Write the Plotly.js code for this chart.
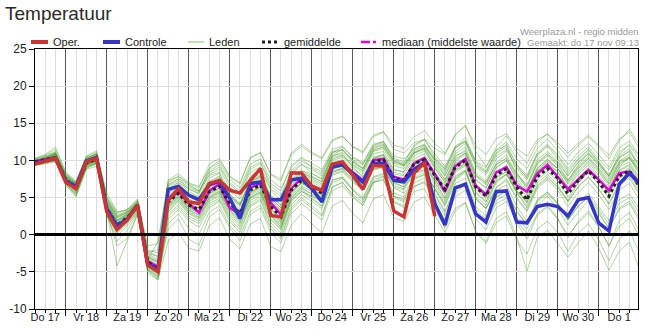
<!DOCTYPE html>
<html>
<head>
<meta charset="utf-8">
<script src="https://cdn.plot.ly/plotly-3.0.1.min.js"></script>
<style>
html,body{margin:0;padding:0;background:#fff;}
#chart{width:645px;height:334px;}
</style>
</head>
<body>
<div id="chart"></div>
<script>
// time steps: hours since Do 17 00:00, every 6 hours
const hours = [6,12,18,24,30,36,42,48,54,60,66,72,78,84,90,96,102,108,114,120,126,132,138,144,150,156,162,168,174,180,186,192,198,204,210,216,222,228,234,240,246,252,258,264,270,276,282,288,294,300,306,312,318,324,330,336,342,348,354,360];
const dayStarts = [24,48,72,96,120,144,168,192,216,240,264,288,312,336];
const dayMid = [12,36,60,84,108,132,156,180,204,228,252,276,300,324,348];
const dayLabels = ["Do 17","Vr 18","Za 19","Zo 20","Ma 21","Di 22","Wo 23","Do 24","Vr 25","Za 26","Zo 27","Ma 28","Di 29","Wo 30","Do 1"];
const yTicks = [-10,-5,0,5,10,15,20,25];

const oper = [9.5,9.9,10.3,7.1,6.2,9.8,10.3,3.1,0.7,2.0,4.0,-4.1,-5.0,4.7,6.2,4.4,4.2,6.9,7.3,6.0,5.6,7.3,8.9,2.6,2.4,8.3,8.3,6.5,6.0,9.5,9.8,8.0,6.1,9.3,9.3,3.2,2.4,8.3,9.7,2.5];
const controle = [9.6,9.9,10.3,7.3,6.5,9.9,10.4,3.5,1.2,2.1,4.0,-4.0,-4.6,6.1,6.5,5.3,4.7,6.7,7.2,4.9,2.2,6.9,7.1,4.7,4.7,7.4,7.6,6.2,4.4,9.1,9.4,8.2,7.1,9.6,9.6,7.3,7.1,8.8,9.7,4.2,1.3,6.3,6.8,2.8,1.7,5.8,5.9,1.7,1.6,3.8,4.1,3.8,2.5,4.7,5.0,1.6,0.5,6.8,8.3,6.8];
const gemiddelde = [9.8,10.1,10.4,7.4,6.3,9.6,10.2,3.6,1.3,2.3,3.8,-3.7,-4.6,4.4,5.6,4.0,3.4,5.8,6.5,4.2,2.9,6.0,6.7,3.8,2.4,6.0,7.3,6.5,5.6,9.1,9.5,8.2,7.1,9.8,10.1,7.6,7.3,9.6,10.1,8.0,6.1,9.1,10.0,6.4,5.2,8.0,8.9,6.4,4.7,7.8,8.9,7.6,5.5,7.3,8.6,7.1,5.2,7.9,8.6,6.4];
const mediaan = [9.9,10.2,10.4,7.3,6.2,9.7,10.3,3.4,1.1,2.2,3.9,-3.5,-4.4,4.6,5.8,4.2,3.0,5.9,6.8,3.6,2.8,6.3,6.9,4.3,2.7,6.2,7.6,6.6,5.8,9.3,9.6,8.4,7.3,10.0,10.2,7.8,7.4,9.6,10.3,8.2,5.8,9.2,10.2,6.6,5.4,8.4,9.1,6.6,5.8,8.2,9.4,7.8,6.1,7.4,8.7,7.4,6.0,8.3,8.5,7.0];

const lid01 = [10.2,10.6,11.2,8.0,6.8,10.2,10.9,4.5,2.2,3.0,4.4,-2.8,-3.5,6.2,7.1,5.8,5.1,7.6,8.3,5.9,4.8,7.8,8.8,6.0,4.6,8.1,9.4,8.8,7.9,11.0,11.8,10.4,9.5,12.0,12.6,10.1,9.6,11.9,12.8,10.5,8.9,11.8,13.1,9.8,8.6,11.0,12.2,9.4,7.6,10.7,11.9,10.2,8.3,10.1,11.4,9.8,8.1,10.6,11.6,9.3];
const lid02 = [9.4,9.7,10.0,6.9,5.4,9.0,9.5,2.8,-0.2,1.2,3.0,-4.8,-5.9,2.1,3.4,1.9,1.0,3.6,4.5,1.8,0.3,3.8,4.6,1.2,-0.3,3.6,5.0,3.9,2.7,6.4,7.1,5.2,4.0,7.0,7.5,4.4,3.9,6.5,7.2,4.9,2.6,5.6,6.8,2.9,1.5,4.6,5.5,2.4,0.8,3.9,5.2,3.5,1.3,3.0,4.6,2.8,0.9,3.6,4.5,2.2];
const lid03 = [9.9,10.3,10.8,7.8,6.6,9.9,10.6,4.2,1.8,2.6,4.1,-3.2,-4.0,5.2,6.4,4.8,4.1,6.5,7.3,5.0,3.8,6.9,7.6,4.7,3.3,6.9,8.2,7.4,6.6,10.0,10.4,9.3,8.2,10.9,11.2,8.8,8.4,10.6,11.3,9.2,7.4,10.4,11.5,8.0,6.9,9.7,10.7,8.2,6.6,9.6,10.8,9.5,7.4,9.2,10.5,9.0,7.2,9.8,10.5,8.4];
const lid04 = [9.6,9.9,10.2,7.0,5.9,9.3,9.9,3.1,-4.2,-0.8,2.7,-5.2,-6.1,-0.8,0.3,-1.8,-2.2,1.2,2.3,-0.6,-1.9,1.4,2.2,-1.6,-2.3,1.3,2.8,1.5,0.2,3.9,4.6,2.9,1.6,4.8,5.4,2.3,1.8,4.4,5.1,2.6,0.3,3.2,4.3,0.5,-0.9,2.2,3.1,-0.3,-4.9,-0.4,0.6,-1.2,-3.0,-1.1,0.5,-1.8,-4.8,-2.2,-1.0,-4.7];
const lid05 = [10.3,10.8,11.8,8.5,7.2,10.6,11.3,5.2,3.0,3.4,4.8,-1.5,-1.2,7.0,7.9,6.9,6.3,9.5,10.3,7.8,6.8,10.4,11.0,8.1,7.2,10.8,11.9,10.9,10.2,12.6,13.2,11.9,11.2,13.4,13.9,12.1,11.6,13.2,14.0,12.3,11.0,13.5,14.6,12.0,10.8,12.9,13.6,11.6,10.6,12.8,13.5,12.4,11.0,12.3,13.4,12.1,10.7,12.9,13.8,11.5];
const lid06 = [9.7,10.0,10.5,7.5,6.4,9.5,10.1,3.8,1.6,2.5,3.6,-3.9,-4.9,4.0,5.3,3.5,2.9,5.5,6.1,3.7,2.2,5.6,6.4,3.4,1.8,5.4,6.9,6.2,5.4,9.4,9.9,8.6,7.6,10.3,10.7,8.2,7.9,9.2,9.6,7.2,5.0,8.4,9.3,5.6,4.4,7.2,8.1,5.8,4.3,8.2,9.6,8.4,6.3,8.1,9.4,7.6,5.6,8.6,9.3,7.1];
const lid07 = [10.0,10.4,11.0,8.2,7.0,10.4,10.8,5.6,3.1,3.3,4.6,-2.2,-3.0,6.8,7.5,6.1,5.5,8.1,8.8,6.4,5.3,8.4,9.1,6.2,5.1,8.3,9.6,8.3,7.4,10.6,10.9,9.1,7.8,10.2,10.5,7.1,6.4,8.3,8.6,6.1,3.9,6.9,7.6,3.8,2.5,5.1,5.9,3.2,1.4,4.4,5.5,4.1,2.0,4.3,5.6,3.8,1.9,4.7,5.5,3.4];
const lid08 = [9.3,9.6,9.8,6.6,5.1,8.8,9.2,2.6,0.4,1.6,3.2,-4.5,-5.5,2.8,4.0,2.5,1.8,4.2,4.9,2.4,1.1,4.3,5.1,2.0,0.6,4.5,5.8,5.2,4.4,8.4,9.0,8.0,7.1,10.2,10.8,8.7,8.5,11.0,11.8,10.2,8.6,11.7,12.5,9.4,8.3,10.9,11.8,9.5,8.0,11.0,12.2,10.8,8.9,10.6,11.8,10.2,8.7,11.2,12.0,10.0];
const lid09 = [9.9,10.2,10.6,7.6,6.6,9.8,10.4,3.9,1.5,2.6,4.0,-3.5,-4.2,4.9,6.0,4.5,3.9,6.3,7.0,4.7,3.4,6.5,7.2,4.4,3.0,6.6,7.9,7.2,6.3,9.7,10.1,8.9,7.8,10.4,10.8,8.4,8.1,10.2,10.9,8.9,7.1,10.0,11.0,7.5,6.3,9.1,10.0,7.6,5.9,9.0,10.1,8.9,6.8,8.6,9.9,8.4,6.5,9.1,9.8,7.6];
const lid10 = [9.7,10.0,10.2,7.1,5.8,9.3,9.9,3.2,0.8,1.9,3.5,-4.1,-5.1,3.5,4.7,3.1,2.4,4.9,5.6,3.2,1.8,5.1,5.8,2.8,1.3,5.0,6.4,5.5,4.6,8.2,8.6,7.2,6.0,8.7,9.0,6.4,6.0,8.3,8.8,6.7,4.6,7.7,8.6,4.8,3.6,6.3,7.3,4.8,3.1,6.2,7.4,6.0,3.8,5.7,7.0,5.4,3.4,6.0,6.9,4.6];
const lid11 = [9.8,10.1,10.6,7.7,6.9,10.0,10.5,4.8,2.6,3.1,4.3,-2.9,-3.8,5.7,6.8,5.6,5.0,7.2,7.9,5.5,4.2,7.2,8.0,5.3,4.0,7.2,8.6,8.2,7.6,10.8,11.4,10.1,9.4,11.9,12.4,10.3,9.8,12.1,12.9,11.6,10.8,13.4,14.8,11.2,9.2,11.4,12.0,8.4,6.1,8.6,9.4,7.9,5.8,7.6,8.9,7.4,5.5,8.1,8.8,6.4];
const lid12 = [9.5,9.8,10.1,7.2,6.0,9.4,9.8,3.3,1.0,2.0,3.4,-4.3,-5.3,3.9,5.1,3.6,3.0,5.3,5.9,3.6,2.3,5.5,6.2,3.1,1.7,5.6,7.0,6.0,5.0,8.6,8.9,7.4,6.2,8.9,9.1,6.3,5.6,7.6,8.0,5.6,3.2,6.3,7.1,3.0,1.7,4.2,4.9,1.9,0.1,2.8,3.9,2.2,-0.1,1.6,2.9,1.0,-1.4,1.1,2.2,-0.3];
const lid13 = [10.1,10.5,11.1,8.1,7.0,10.2,10.8,4.4,2.0,2.8,4.2,-3.0,-3.6,5.6,6.7,5.3,4.7,7.0,7.8,5.4,4.1,7.4,8.2,5.3,3.9,7.4,8.7,7.9,7.1,10.4,10.7,9.6,8.6,11.2,11.6,9.3,8.9,11.1,11.7,9.6,7.9,10.9,11.8,8.4,7.2,10.2,11.3,9.1,7.8,10.8,12.0,10.6,8.6,10.2,11.5,9.9,7.9,10.3,11.2,9.0];
const lid14 = [9.6,9.9,10.3,7.2,6.1,9.5,10.0,3.0,-1.5,-0.5,2.8,-4.6,-5.6,0.8,2.1,-0.6,-1.4,2.4,3.4,0.9,-0.8,2.7,3.6,0.3,-1.1,2.8,4.2,3.1,2.0,5.9,6.6,5.0,3.9,7.1,7.8,5.2,4.8,7.4,8.2,6.2,4.0,7.4,8.4,4.9,3.5,6.4,7.5,5.0,3.3,6.6,7.8,6.4,4.4,6.5,7.8,6.2,4.2,7.0,7.9,5.6];
const lid15 = [10.0,10.3,10.9,7.9,6.8,10.1,10.7,4.9,2.5,3.2,4.5,-2.5,-2.9,6.5,7.3,6.4,5.8,8.6,9.4,7.0,5.9,9.1,9.8,6.9,5.9,9.3,10.4,9.6,8.8,11.5,11.9,10.5,9.7,12.2,12.5,10.6,10.2,11.6,12.1,9.9,8.0,10.6,11.2,8.1,7.0,9.5,10.3,8.1,6.8,9.8,10.9,9.7,7.9,9.8,11.1,9.6,7.8,10.4,11.3,9.2];
const lid16 = [9.4,9.6,9.9,6.8,5.5,9.1,9.6,2.9,0.6,1.8,3.3,-4.4,-5.0,3.1,4.4,2.8,2.1,4.5,5.2,2.7,1.4,4.6,5.4,2.2,0.8,4.6,5.9,4.8,3.8,7.3,7.8,6.2,5.0,7.8,8.3,5.6,5.1,7.7,8.4,6.3,4.3,7.5,8.6,5.1,4.0,7.0,8.1,5.9,4.6,8.5,9.9,8.9,7.3,9.4,10.9,9.5,7.9,10.8,12.2,10.5];
const lid17 = [9.8,10.2,10.7,7.6,6.5,9.7,10.3,3.9,1.7,2.7,4.1,-3.3,-0.9,7.3,7.8,6.8,5.9,8.0,8.4,4.4,2.6,6.6,7.4,4.5,3.2,6.8,8.0,7.0,6.0,9.4,9.8,8.3,7.2,9.9,10.3,7.9,7.5,9.9,10.5,8.4,6.7,9.8,10.8,7.3,6.3,9.0,10.0,7.3,5.4,8.7,9.9,8.5,6.4,8.4,9.7,8.0,6.0,8.7,9.5,7.4];
const lid18 = [9.5,9.8,10.0,7.0,5.7,9.2,9.7,3.4,1.1,2.1,3.6,-4.0,-4.8,3.8,5.0,3.3,2.7,5.0,5.7,3.4,2.1,5.3,6.0,3.0,1.5,5.2,6.6,5.8,4.9,8.4,8.8,7.5,6.4,9.2,9.5,6.9,6.5,8.8,9.3,7.0,4.9,7.9,8.7,4.9,3.5,6.0,6.7,3.8,1.8,4.7,5.8,4.3,2.0,3.9,5.0,3.1,0.8,3.4,4.2,1.8];
const lid19 = [10.2,10.7,11.5,8.3,7.1,10.5,11.1,4.7,2.4,3.0,4.4,-2.6,-3.3,6.0,7.0,6.2,5.6,9.0,10.0,7.9,7.0,10.3,11.1,8.2,7.5,11.0,12.2,11.1,10.4,12.8,13.3,11.8,11.0,13.2,13.8,11.5,11.0,12.4,12.8,10.9,9.2,11.9,12.6,9.6,8.4,11.4,12.5,10.2,8.9,11.6,12.9,11.3,9.4,11.1,12.3,10.8,9.1,11.7,12.6,10.6];
const lid20 = [9.6,9.8,10.1,6.9,5.2,8.9,9.6,2.7,-0.9,0.6,2.9,-4.9,-6.0,1.5,2.8,0.8,0.1,3.0,3.9,1.2,-0.2,3.1,4.0,0.8,-0.6,3.3,4.7,3.6,2.5,6.4,7.0,5.5,4.3,7.4,7.9,5.0,4.4,6.5,7.0,4.4,2.0,5.1,6.0,2.1,0.7,3.6,4.5,1.6,-0.6,2.6,3.7,2.1,-0.4,1.8,3.2,1.1,-1.6,1.9,3.0,0.4];
const lid21 = [9.8,10.1,10.4,7.4,6.2,9.6,10.2,3.7,1.4,2.4,3.9,-3.6,-4.4,4.6,5.8,4.2,3.6,6.0,6.8,4.4,3.1,6.2,7.0,4.0,2.6,6.2,7.6,6.8,5.9,9.3,9.7,8.4,7.3,10.0,10.3,7.8,7.5,9.8,10.4,8.3,6.4,9.4,10.3,6.8,5.6,8.4,9.3,6.8,5.1,8.2,9.3,8.0,5.9,7.7,9.0,7.5,5.6,8.3,9.0,6.8];
const lid22 = [9.9,10.2,10.5,7.3,6.4,9.7,10.3,3.5,1.2,2.2,3.7,-3.8,-4.7,4.3,5.5,3.8,3.2,5.6,6.3,4.0,2.7,5.8,6.5,3.6,2.2,5.8,7.1,6.3,5.3,8.9,9.3,8.0,6.9,9.6,9.9,7.4,7.1,9.4,9.9,7.8,5.8,8.8,9.7,6.1,4.9,7.6,8.5,6.0,4.3,7.4,8.5,7.2,5.1,7.0,8.3,6.8,4.9,7.6,8.3,6.0];
const lid23 = [10.0,10.4,10.9,7.8,6.9,10.3,10.9,5.0,2.8,3.4,4.6,-2.0,-2.5,7.4,8.2,7.0,6.5,8.9,9.7,7.5,6.3,9.5,10.2,7.4,6.3,9.0,10.3,9.0,8.2,11.2,11.5,9.9,8.8,11.4,11.8,9.6,9.2,11.0,11.6,9.4,7.4,10.2,11.0,7.9,6.7,9.4,10.3,7.9,6.4,9.5,10.6,9.3,7.2,9.0,10.3,8.8,6.9,9.6,10.4,8.2];
const lid24 = [9.5,9.8,10.2,7.1,6.0,9.4,10.0,3.2,0.5,1.9,3.5,-4.2,-5.2,3.3,4.6,2.9,2.3,4.7,5.4,3.0,1.6,4.9,5.6,2.6,1.0,4.9,6.3,5.4,4.4,8.0,8.5,7.1,6.0,8.8,9.2,6.6,6.2,8.6,9.2,7.4,5.5,8.6,9.6,6.4,5.2,8.2,9.3,7.1,5.7,8.9,10.2,8.9,7.0,8.9,10.2,8.6,6.8,9.5,10.3,8.0];
const lid25 = [9.9,10.3,11.0,8.0,6.9,10.3,10.9,4.6,2.3,3.0,4.3,-2.4,-2.0,6.6,7.6,6.6,5.9,8.4,9.1,6.8,5.6,8.8,9.6,6.6,5.4,8.6,9.9,9.2,8.5,11.1,11.4,10.0,9.0,11.6,12.1,10.0,9.4,11.3,12.0,10.0,8.3,11.2,12.3,9.2,8.0,10.6,11.5,9.0,7.4,10.1,11.2,9.9,8.0,9.7,10.9,9.3,7.5,9.9,10.8,8.6];
const lid26 = [9.4,9.7,10.0,6.8,5.6,9.1,9.7,2.9,0.2,1.5,3.1,-4.7,-5.7,2.5,3.7,2.2,1.5,3.9,4.7,2.1,0.7,4.0,4.8,1.6,0.2,4.0,5.4,4.5,3.5,7.0,7.6,6.0,4.8,7.7,8.1,5.2,4.6,7.0,7.6,5.3,3.0,6.0,6.9,3.4,2.1,5.0,5.9,3.1,1.3,4.6,5.7,4.2,2.0,3.8,5.2,3.4,1.4,4.2,5.0,2.8];
const lid27 = [9.8,10.2,10.8,7.9,6.7,10.0,10.6,4.3,1.9,2.8,4.2,-3.1,-3.7,5.4,6.5,5.1,4.4,6.8,7.6,5.2,4.0,7.1,7.9,5.0,3.6,7.1,8.4,7.6,6.8,10.2,10.6,9.4,8.5,11.3,11.9,9.8,9.3,11.5,12.2,10.3,8.8,11.6,12.7,9.9,9.0,11.8,13.3,11.1,9.6,12.4,13.6,12.0,10.4,12.0,13.2,11.8,10.2,12.6,14.2,12.0];
const lid28 = [9.7,10.0,10.4,7.3,6.1,9.5,10.0,3.5,1.0,2.2,3.7,-3.9,-4.8,4.1,5.3,3.7,3.1,5.6,6.3,3.9,2.5,5.7,6.4,3.5,2.0,5.7,7.0,6.1,5.2,8.8,9.2,7.8,6.7,9.4,9.8,7.2,6.8,9.1,9.7,7.5,5.5,8.6,9.4,5.8,4.5,7.3,8.2,5.6,3.9,7.0,8.1,6.7,4.5,6.4,7.7,6.1,4.1,6.8,7.6,5.3];
const lid29 = [9.6,9.9,10.3,7.2,6.0,9.4,10.0,3.3,0.9,2.0,3.5,-4.0,-4.9,3.7,4.9,3.3,2.6,5.1,5.8,3.3,1.9,5.0,5.7,2.6,1.0,4.8,6.1,5.0,3.9,7.4,7.7,6.0,4.6,7.1,7.3,4.5,3.6,5.8,6.2,3.4,0.9,3.6,4.3,0.4,-1.2,1.6,2.5,-0.8,-2.6,0.8,1.8,0.3,-2.2,0.2,1.5,-0.7,-3.5,-0.6,0.5,-2.4];
const lid30 = [10.0,10.3,10.8,7.7,6.6,9.9,10.5,4.1,1.9,2.8,4.2,-3.4,-4.1,5.0,6.2,4.7,4.2,6.7,7.5,5.2,4.0,7.0,7.8,4.9,3.6,7.0,8.4,7.8,7.1,10.6,11.1,9.8,8.9,11.7,12.2,9.9,9.4,11.0,11.5,9.0,7.0,9.6,10.3,6.6,5.1,7.8,8.5,5.7,3.6,6.5,7.6,6.4,4.6,7.0,8.6,7.4,5.9,9.2,10.4,8.7];
const leden = [lid01,lid02,lid03,lid04,lid05,lid06,lid07,lid08,lid09,lid10,lid11,lid12,lid13,lid14,lid15,lid16,lid17,lid18,lid19,lid20,lid21,lid22,lid23,lid24,lid25,lid26,lid27,lid28,lid29,lid30];

const legendNames = ["Oper.","Controle","Leden","gemiddelde","mediaan (middelste waarde)"];

const C_OPER = '#cc3333', C_CTRL = '#3535c8', C_LID = 'rgba(68,155,35,0.42)', C_MEAN = '#222222', C_MED = '#dd00dd';
const FONT = 'Liberation Sans, Arial, sans-serif';

const traces = [];
leden.forEach(function(v){
  traces.push({x: hours, y: v, type:'scatter', mode:'lines', line:{color:C_LID, width:1}, hoverinfo:'skip', showlegend:false});
});
traces.push({x: hours, y: mediaan, type:'scatter', mode:'lines', line:{color:C_MED, width:2.5}, name:legendNames[4], showlegend:false});
traces.push({x: hours, y: gemiddelde, type:'scatter', mode:'lines', line:{color:C_MEAN, width:3, dash:'dot'}, name:legendNames[3], showlegend:false});
traces.push({x: hours.slice(0, controle.length), y: controle, type:'scatter', mode:'lines', line:{color:C_CTRL, width:3.5}, name:legendNames[1], showlegend:false});
traces.push({x: hours.slice(0, oper.length), y: oper, type:'scatter', mode:'lines', line:{color:C_OPER, width:3.5}, name:legendNames[0], showlegend:false});
// carrier for the day-label axis
traces.push({x: dayMid, y: dayMid.map(function(){return null;}), xaxis:'x2', type:'scatter', mode:'lines', hoverinfo:'skip', showlegend:false});

const L = 35, R = 7, T = 49, B = 25, W = 645, H = 334;
const pw = W - L - R, ph = H - T - B;
function px(x){ return (x - L) / pw; }
function py(y){ return (H - B - y) / ph; }

const legendY = 42;
const legendItems = [
  {x0:31, x1:48, tx:51, color:C_OPER, width:4, dash:'solid'},
  {x0:103, x1:120, tx:123, color:C_CTRL, width:4, dash:'solid'},
  {x0:188, x1:204, tx:207, color:'#a9d99a', width:1.5, dash:'solid'},
  {x0:262, x1:279, tx:282, color:C_MEAN, width:3, dash:'dot'},
  {x0:361, x1:377, tx:380, color:C_MED, width:2.5, dash:'dashdot'}
];
const shapes = [];
const annotations = [];
legendItems.forEach(function(it, i){
  shapes.push({type:'line', xref:'paper', yref:'paper', x0:px(it.x0), x1:px(it.x1), y0:py(legendY), y1:py(legendY), line:{color:it.color, width:it.width, dash:it.dash}});
  annotations.push({xref:'paper', yref:'paper', x:px(it.tx), y:py(legendY), xanchor:'left', yanchor:'middle', text:legendNames[i], showarrow:false, font:{family:FONT, size:11, color:'#222'}});
});
annotations.push({xref:'paper', yref:'paper', x:px(641), y:py(31), xanchor:'right', yanchor:'middle', text:'Weerplaza.nl - regio midden', showarrow:false, font:{family:FONT, size:9.5, color:'#9a9a9a'}});
annotations.push({xref:'paper', yref:'paper', x:px(641), y:py(42), xanchor:'right', yanchor:'middle', text:'Gemaakt: do 17 nov 09:13', showarrow:false, font:{family:FONT, size:9.5, color:'#9a9a9a'}});

const layout = {
  width: W, height: H,
  margin: {l:L, r:R, t:T, b:B, pad:0},
  paper_bgcolor:'#ffffff', plot_bgcolor:'#ffffff',
  font: {family:FONT, size:11, color:'#222'},
  title: {text:'Temperatuur', x:5/W, xanchor:'left', y:1-13/H, yanchor:'middle', font:{family:FONT, size:19, color:'#2a2a2a'}},
  showlegend:false,
  xaxis: {
    range:[6, 359], tickmode:'array', tickvals:dayStarts, ticktext:dayStarts.map(function(){return '';}),
    showgrid:true, gridcolor:'#5a5a5a', gridwidth:1,
    ticks:'outside', ticklen:6, tickcolor:'#000', tickwidth:1,
    showline:true, linecolor:'#000', linewidth:1, mirror:true,
    zeroline:false,
    minor:{tickmode:'linear', tick0:0, dtick:6, showgrid:true, gridcolor:'#dddddd', gridwidth:1, ticks:'outside', ticklen:3, tickcolor:'#000'}
  },
  xaxis2: {
    range:[6, 359], overlaying:'x', anchor:'y', side:'bottom',
    tickmode:'array', tickvals:dayMid, ticktext:dayLabels,
    showgrid:false, zeroline:false, showline:false, ticks:'', ticklen:0,
    tickfont:{size:11, color:'#222'}
  },
  yaxis: {
    range:[-10, 25], tickmode:'array', tickvals:yTicks, ticktext:yTicks.map(String),
    showgrid:true, gridcolor:'#dddddd', gridwidth:1,
    zeroline:true, zerolinecolor:'#000', zerolinewidth:2.5, zerolinelayer:'above traces',
    ticks:'outside', ticklen:5, tickcolor:'#000',
    showline:true, linecolor:'#000', linewidth:1, mirror:true,
    tickfont:{size:12, color:'#222'}
  },
  shapes: shapes,
  annotations: annotations
};

Plotly.newPlot('chart', traces, layout, {staticPlot:true, displayModeBar:false});
</script>
</body>
</html>
